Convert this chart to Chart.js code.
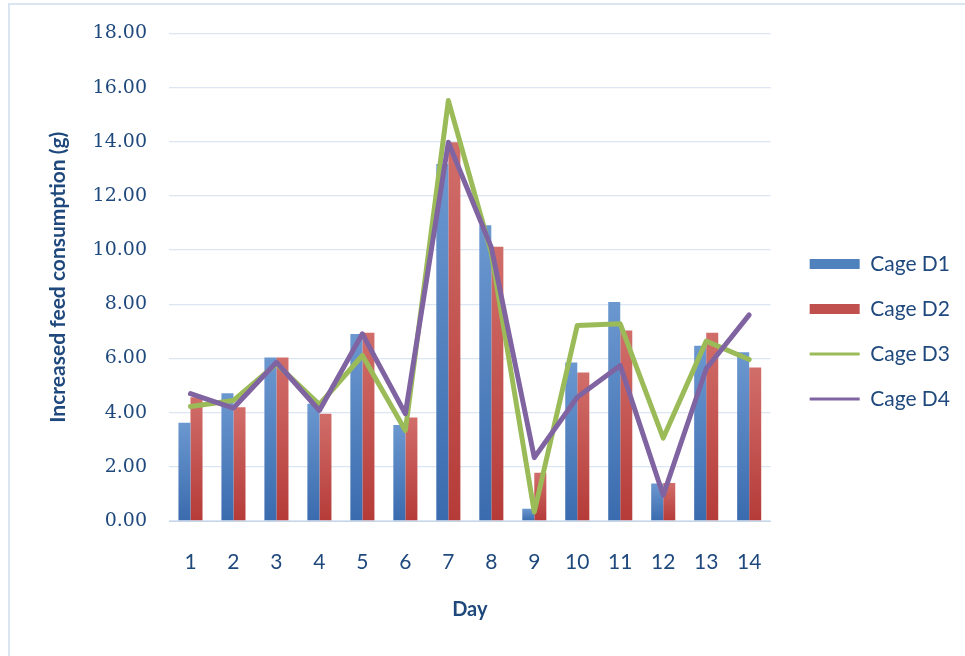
<!DOCTYPE html>
<html>
<head>
<meta charset="utf-8">
<script src="https://cdn.jsdelivr.net/npm/chart.js@4.4.1/dist/chart.umd.min.js"></script>
<style>
  html, body { margin: 0; padding: 0; background: #fff; }
  #frame { position: absolute; left: 8px; top: 3px; width: 1000px; height: 700px; border: 2px solid #dbe5f1; }
  #wrap { position: absolute; left: 0; top: 0; width: 965px; height: 656px; }
</style>
</head>
<body>
<div id="frame"></div>
<div id="wrap"><canvas id="feedChart" width="965" height="656"></canvas></div>
<script>
const days = ['1', '2', '3', '4', '5', '6', '7', '8', '9', '10', '11', '12', '13', '14'];
const cageD1 = [3.63, 4.72, 6.04, 4.33, 6.90, 3.54, 13.18, 10.92, 0.45, 5.85, 8.08, 1.38, 6.47, 6.23];
const cageD2 = [4.57, 4.20, 6.04, 3.96, 6.95, 3.82, 13.98, 10.12, 1.78, 5.48, 7.03, 1.40, 6.95, 5.67];
const cageD3 = [4.23, 4.45, 5.80, 4.30, 6.11, 3.34, 15.52, 9.90, 0.33, 7.22, 7.28, 3.06, 6.64, 5.96];
const cageD4 = [4.70, 4.17, 5.86, 4.08, 6.91, 3.96, 13.98, 10.10, 2.34, 4.57, 5.74, 0.95, 5.62, 7.61];
const yTicks = [0, 2, 4, 6, 8, 10, 12, 14, 16, 18];

const navy = '#1F497D';
const gridBlue = '#dce6f2';

// vertical gradient per bar, lighter at the top like the Excel fill
function barFill(light, dark, solid) {
    return function (ctx) {
        const chart = ctx.chart;
        if (ctx.type !== 'data' || !chart.chartArea || !chart.scales.y) return solid;
        const y = chart.scales.y;
        const top = y.getPixelForValue(ctx.raw);
        const bottom = y.getPixelForValue(0);
        if (!isFinite(top) || bottom - top < 1) return solid;
        const g = chart.ctx.createLinearGradient(0, top, 0, bottom);
        g.addColorStop(0, light);
        g.addColorStop(1, dark);
        return g;
    };
}

// nudge the legend block to where it sits in the reference
const legendShift = {
    id: 'legendShift',
    afterLayout(chart) {
        const lg = chart.legend;
        if (!lg) return;
        lg.left += 15; lg.right += 15;
        lg.top += 4; lg.bottom += 4;
    }
};

new Chart(document.getElementById('feedChart'), {
    type: 'bar',
    data: {
        labels: days,
        datasets: [
            {
                label: 'Cage D1',
                data: cageD1,
                backgroundColor: barFill('#6c98d0', '#3a6bae', '#4F81BD'),
                order: 3
            },
            {
                label: 'Cage D2',
                data: cageD2,
                backgroundColor: barFill('#d16e6a', '#b53b38', '#C0504D'),
                order: 3
            },
            {
                type: 'line',
                label: 'Cage D3',
                data: cageD3,
                borderColor: '#9BBB59',
                backgroundColor: '#9BBB59',
                borderWidth: 5,
                pointRadius: 0,
                tension: 0,
                borderJoinStyle: 'round',
                borderCapStyle: 'round',
                order: 1
            },
            {
                type: 'line',
                label: 'Cage D4',
                data: cageD4,
                borderColor: '#8064A2',
                backgroundColor: '#8064A2',
                borderWidth: 5,
                pointRadius: 0,
                tension: 0,
                borderJoinStyle: 'round',
                borderCapStyle: 'round',
                order: 0
            }
        ]
    },
    options: {
        responsive: false,
        animation: false,
        devicePixelRatio: 1,
        datasets: {
            bar: { barPercentage: 1, categoryPercentage: 0.56 }
        },
        layout: { padding: { left: 46, top: 33, right: 20, bottom: 34 } },
        plugins: {
            tooltip: { enabled: false },
            legend: {
                position: 'right',
                labels: {
                    usePointStyle: true,
                    pointStyleWidth: 50,
                    boxHeight: 10,
                    padding: 24,
                    color: navy,
                    font: { family: 'Lato', size: 21 },
                    sort: (a, b) => a.datasetIndex - b.datasetIndex,
                    generateLabels(chart) {
                        const solid = ['#4F81BD', '#C0504D', '#9BBB59', '#8064A2'];
                        return chart.data.datasets.map((ds, i) => ({
                            text: ds.label,
                            datasetIndex: i,
                            fillStyle: solid[i],
                            strokeStyle: solid[i],
                            lineWidth: i < 2 ? 0 : 3,
                            pointStyle: i < 2 ? 'rect' : 'line',
                            fontColor: navy,
                            hidden: false
                        }));
                    }
                }
            }
        },
        scales: {
            x: {
                grid: { display: false },
                border: { display: true, color: '#c5d5ea' },
                ticks: {
                    color: navy,
                    padding: 21,
                    font: { family: 'Lato', size: 21 }
                },
                title: {
                    display: true,
                    text: 'Day',
                    color: navy,
                    padding: 0,
                    font: { family: 'Lato', size: 20, weight: 'bold' }
                },
                afterFit(s) { s.height = 101; }
            },
            y: {
                min: 0,
                max: 18,
                afterBuildTicks(s) { s.ticks = yTicks.map(v => ({ value: v })); },
                grid: { color: gridBlue, lineWidth: 1.3, drawTicks: false },
                border: { display: false },
                ticks: {
                    color: navy,
                    padding: 22,
                    font: { family: 'DejaVu Serif', size: 19 },
                    callback: v => Number(v).toFixed(2)
                },
                title: {
                    display: true,
                    text: 'Increased feed consumption (g)',
                    color: navy,
                    padding: 0,
                    font: { family: 'Lato', size: 21, weight: 'bold' }
                },
                afterFit(s) { s.width = 169 - 46; }
            }
        }
    },
    plugins: [legendShift]
});
</script>
</body>
</html>
